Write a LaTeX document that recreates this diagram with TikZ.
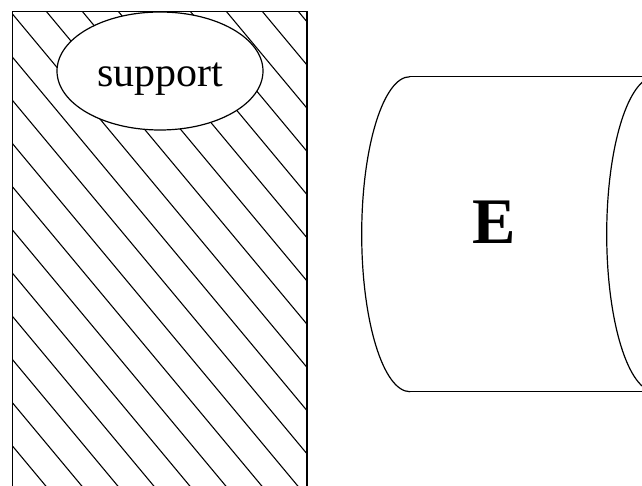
\documentclass[tikz,border=0pt]{standalone}
\usepackage{fontspec}
\setmainfont{Liberation Serif}
\usetikzlibrary{shapes.geometric}
\begin{document}
\begin{tikzpicture}[x=1pt,y=-1pt,
  outline/.style={draw=black,line width=1.2pt},
  hatch/.style={draw=black,line width=1.1pt},
  txtlabel/.style={anchor=base,inner sep=0pt}]
\useasboundingbox (0,0) rectangle (642,486);
\clip (0,0) rectangle (642,486);
% hatched support block
\begin{scope}
  \clip (12.3,11.7) rectangle (307,520);
  \foreach \k in {-1,...,18}{
    \pgfmathsetmacro\cc{252.8-36*\k}
    \draw[hatch] (\cc,0) -- ({\cc+416.67},500);
  }
\end{scope}
\node[ellipse,outline,fill=white,minimum width=206pt,minimum height=118pt,inner sep=0pt] (supportshape) at (160,71) {};
\node[txtlabel,font=\fontsize{42}{50}\selectfont] (supportlabel) at (160,87) {support};
\draw[outline] (12.3,520) -- (12.3,11.7) -- (307,11.7) -- (307,520);
% cylinder E
\coordinate (ltop) at (410,76.7);
\coordinate (lbot) at (410,391.7);
\coordinate (rtop) at (660,76.7);
\coordinate (rbot) at (660,391.7);
\begin{scope}
  \clip (0,0) rectangle (410,486);
  \draw[outline] (410,234.2) ellipse [x radius=48.3,y radius=157.5];
\end{scope}
\draw[outline] (ltop) -- (rtop);
\draw[outline] (lbot) -- (rbot);
\draw[outline] (655,234.2) ellipse [x radius=48.3,y radius=157.5];
\node[txtlabel,font=\bfseries\fontsize{65}{78}\selectfont] (elabel) at (494.5,243.3) {E};
\end{tikzpicture}
\end{document}
